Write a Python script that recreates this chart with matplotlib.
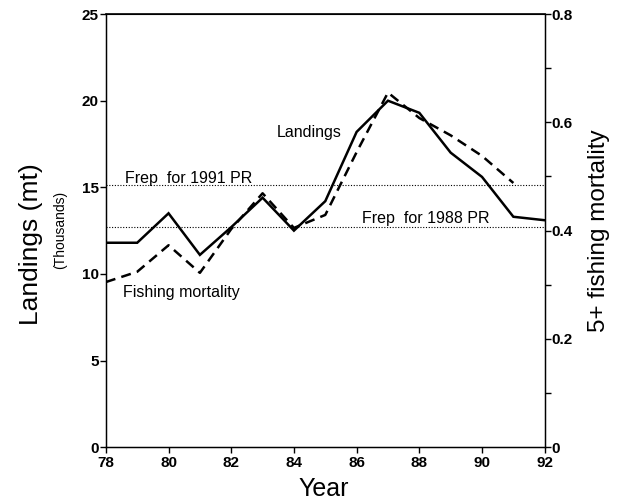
import matplotlib
matplotlib.use('Agg')
import matplotlib.pyplot as plt

# data
years = [78, 79, 80, 81, 82, 83, 84, 85, 86, 87, 88, 89, 90, 91, 92]
landings = [11.8, 11.8, 13.5, 11.1, 12.7, 14.4, 12.5, 14.2, 18.2, 20.0, 19.3, 17.0, 15.6, 13.3, 13.1]
f_years = [78, 79, 80, 81, 82, 83, 84, 85, 86, 87, 88, 89, 90, 91]
fishing_mort = [0.305, 0.324, 0.373, 0.322, 0.403, 0.469, 0.405, 0.429, 0.545, 0.655, 0.608, 0.576, 0.538, 0.488]
frep_values = [0.484, 0.406]
frep_labels = ['Frep  for 1991 PR', 'Frep  for 1988 PR']
f_ticks = [0, 0.2, 0.4, 0.6, 0.8]
f_ticklabels = ['0', '0.2', '0.4', '0.6', '0.8']
f_minor = [0.1, 0.3, 0.5, 0.7]

plt.rcParams['font.family'] = ['Liberation Sans', 'DejaVu Sans']

fig = plt.figure(figsize=(6.19, 5.03), dpi=100)
ax = fig.add_axes([0.171, 0.111, 0.709, 0.861])
ax2 = ax.twinx()

ax.plot(years, landings, color='black', lw=1.8, solid_joinstyle='miter')
ax2.plot(f_years, fishing_mort, color='black', lw=1.8, ls=(0, (4, 2.5)))
for v in frep_values:
    ax2.axhline(v, color='black', lw=0.8, ls=(0, (1, 1.5)))

ax.set_xlim(78, 92)
ax.set_ylim(0, 25)
ax2.set_ylim(0, 0.8)

ax.set_xticks(range(78, 93, 2))
ax.set_yticks(range(0, 26, 5))
ax2.set_yticks(f_ticks)
ax2.set_yticklabels(f_ticklabels)
ax2.set_yticks(f_minor, minor=True)

for a in (ax, ax2):
    a.tick_params(direction='out', length=4, width=1, labelsize=11)
    for lab in a.get_xticklabels() + a.get_yticklabels():
        lab.set_fontweight('bold')
ax2.tick_params(which='minor', direction='out', length=4, width=1)
ax.tick_params(axis='x', pad=2)
ax.tick_params(axis='y', pad=1)
ax2.tick_params(axis='y', pad=1)
for s in ax.spines.values():
    s.set_linewidth(1.0)
ax.spines['top'].set_linewidth(1.2)

ax.text(0.043, 0.621, frep_labels[0], transform=ax.transAxes, fontsize=11.5, va='center')
ax.text(0.583, 0.527, frep_labels[1], transform=ax.transAxes, fontsize=11.5, va='center')
ax.text(0.390, 0.727, 'Landings', transform=ax.transAxes, fontsize=11.5, va='center')
ax.text(0.039, 0.358, 'Fishing mortality', transform=ax.transAxes, fontsize=11.5, va='center')

fig.text(0.05, 0.515, 'Landings (mt)', rotation=90, ha='center', va='center', fontsize=19)
fig.text(0.097, 0.543, '(Thousands)', rotation=90, ha='center', va='center', fontsize=10)
fig.text(0.968, 0.541, '5+ fishing mortality', rotation=90, ha='center', va='center', fontsize=17.5)
fig.text(0.523, 0.028, 'Year', ha='center', va='center', fontsize=18)

fig.savefig('out.png', dpi=100)
